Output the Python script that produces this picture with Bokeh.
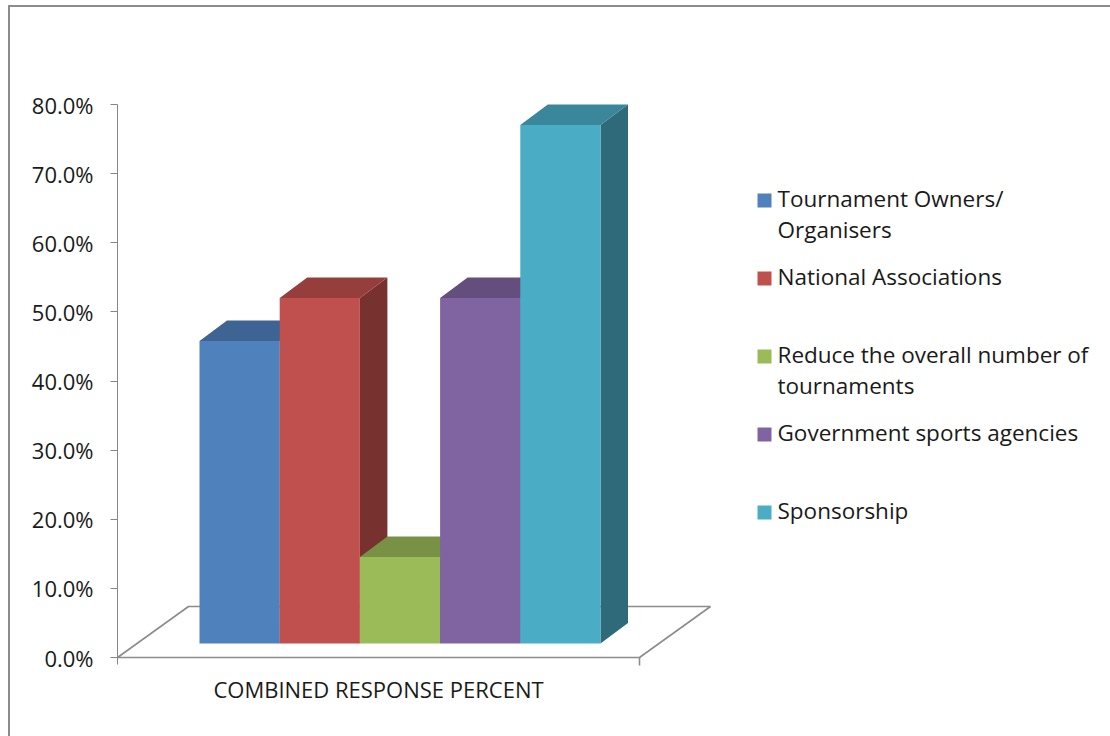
from bokeh.plotting import figure
from bokeh.models import Range1d, FixedTicker, PrintfTickFormatter
from bokeh.core.properties import value
from bokeh.embed import file_html
from bokeh.resources import INLINE

# ---------------- data ----------------
categories = [
    "Tournament Owners/\nOrganisers",
    "National Associations",
    "Reduce the overall number of\ntournaments",
    "Government sports agencies",
    "Sponsorship",
]
values = [43.75, 50.0, 12.5, 50.0, 75.0]          # percent
colors = ["#4F81BD", "#C0504D", "#9BBB59", "#8064A2", "#4BACC6"]
y_ticks = [0, 10, 20, 30, 40, 50, 60, 70, 80]
x_label = "COMBINED RESPONSE PERCENT"

# ---------------- layout constants (pixels) ----------------
W, H = 1110, 736
FRAME_L, FRAME_T, FRAME_B = 117, 20, 670
Y0_PX, Y80_PX = 657, 104
PXU = (Y0_PX - Y80_PX) / 80.0        # pixels per percent unit

def dy(px):            # vertical pixel distance -> data units
    return px / PXU

def row(px_row):       # page row -> data y
    return (Y0_PX - px_row) / PXU

FONT = "Open Sans"
TXT = "#1a1a1a"
GREY = "#8c8c8c"

p = figure(width=W, height=H, output_backend="svg", toolbar_location=None,
           x_range=Range1d(0, W - FRAME_L),
           y_range=Range1d(-dy(FRAME_B - Y0_PX), row(FRAME_T)),
           min_border_left=FRAME_L, min_border_right=0,
           min_border_top=FRAME_T, min_border_bottom=H - FRAME_B)
p.border_fill_color = None
p.background_fill_color = "white"
p.outline_line_color = None
p.xgrid.visible = False
p.ygrid.visible = False
p.styles = {
    "background": (f"linear-gradient({GREY},{GREY}) 8px 5px / 2px 731px no-repeat, "
                   f"linear-gradient({GREY},{GREY}) 8px 5px / 1102px 2px no-repeat, #ffffff")
}

# y axis
ya = p.yaxis[0]
ya.ticker = FixedTicker(ticks=y_ticks)
ya.formatter = PrintfTickFormatter(format="%.1f%%")
ya.bounds = (-dy(7), 80)
ya.axis_line_color = "#868686"
ya.major_tick_line_color = "#868686"
ya.major_tick_out = 7
ya.major_tick_in = 0
ya.minor_tick_line_color = None
ya.major_label_standoff = 17
ya.major_label_text_font = FONT
ya.major_label_text_font_size = "22px"
ya.major_label_text_color = TXT

# floor geometry
FLOOR_W = 522
FLOOR_DX, FLOOR_DY = 71, dy(51)

# x axis: single category label
xa = p.xaxis[0]
xa.ticker = FixedTicker(ticks=[FLOOR_W / 2])
xa.major_label_overrides = {FLOOR_W / 2: x_label}
xa.axis_line_color = None
xa.major_tick_line_color = None
xa.minor_tick_line_color = None
xa.major_tick_out = 0
xa.major_label_standoff = 3
xa.major_label_text_font = FONT
xa.major_label_text_font_size = "22px"
xa.major_label_text_color = TXT

# floor
p.patch([0, FLOOR_W, FLOOR_W + FLOOR_DX, FLOOR_DX], [0, 0, FLOOR_DY, FLOOR_DY],
        fill_color="white", line_color=GREY, line_width=1.6)
p.segment(x0=[FLOOR_W], y0=[0], x1=[FLOOR_W], y1=[-dy(8)], line_color=GREY, line_width=1.6)

# bars
BAR_X0, BAR_W = 82, 80.2
BAR_DX, BAR_DY = 27.5, dy(20.5)
BASE = dy(14)

def shade(hexc, f):
    r, g, b = int(hexc[1:3], 16), int(hexc[3:5], 16), int(hexc[5:7], 16)
    return "#%02x%02x%02x" % (int(r * f), int(g * f), int(b * f))

side_xs, side_ys, top_xs, top_ys = [], [], [], []
lefts, rights, tops = [], [], []
for i, v in enumerate(values):
    xl = BAR_X0 + i * BAR_W
    xr = xl + BAR_W
    t = BASE + v
    side_xs.append([xr, xr, xr + BAR_DX, xr + BAR_DX])
    side_ys.append([BASE, t, t + BAR_DY, BASE + BAR_DY])
    top_xs.append([xl, xr, xr + BAR_DX, xl + BAR_DX])
    top_ys.append([t, t, t + BAR_DY, t + BAR_DY])
    lefts.append(xl); rights.append(xr); tops.append(t)

p.patches(side_xs, side_ys, fill_color=[shade(c, 0.62) for c in colors], line_color=None)
p.patches(top_xs, top_ys, fill_color=[shade(c, 0.78) for c in colors], line_color=None)
p.quad(left=lefts, right=rights, bottom=BASE, top=tops, fill_color=colors, line_color=None)

# legend (manual)
LEG_SQ_X, LEG_TX_X = 764 - FRAME_L, 777 - FRAME_L
LEG_ROW0, LEG_STEP, LEG_LINE, TXT_SHIFT = 200, 78, 31, -2
sq_x, sq_y, tx_x, tx_y, tx = [], [], [], [], []
for i, c in enumerate(categories):
    r0 = LEG_ROW0 + i * LEG_STEP
    sq_x.append(LEG_SQ_X); sq_y.append(row(r0))
    for k, line in enumerate(c.split("\n")):
        tx_x.append(LEG_TX_X); tx_y.append(row(r0 + TXT_SHIFT + k * LEG_LINE)); tx.append(line)
p.scatter(sq_x, sq_y, marker="square", size=14, fill_color=colors, line_color=None)
p.text(tx_x, tx_y, text=tx, text_font=value(FONT), text_font_size="22.5px",
       text_baseline="middle", text_align="left", text_color=TXT)

open("out.html", "w").write(file_html(p, INLINE))
